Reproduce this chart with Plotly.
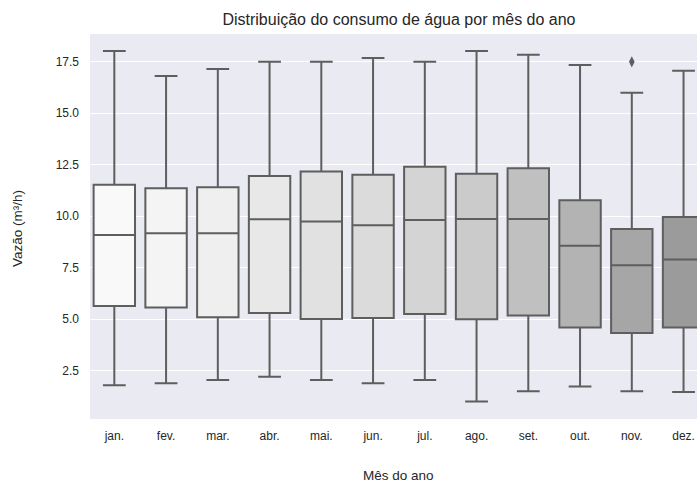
import plotly.graph_objects as go

# Monthly water flow distribution (m³/h): precomputed box statistics
months = ["jan.", "fev.", "mar.", "abr.", "mai.", "jun.",
          "jul.", "ago.", "set.", "out.", "nov.", "dez."]
lower_whisker = [1.79, 1.89, 2.04, 2.20, 2.04, 1.89, 2.04, 1.00, 1.50, 1.73, 1.50, 1.46]
q1 = [5.64, 5.57, 5.09, 5.30, 5.01, 5.05, 5.25, 4.99, 5.18, 4.60, 4.33, 4.60]
median = [9.09, 9.17, 9.17, 9.85, 9.74, 9.56, 9.82, 9.86, 9.86, 8.56, 7.62, 7.90]
q3 = [11.53, 11.36, 11.41, 11.95, 12.17, 12.01, 12.40, 12.06, 12.33, 10.78, 9.38, 9.96]
upper_whisker = [18.02, 16.81, 17.15, 17.50, 17.50, 17.69, 17.50, 18.03, 17.84, 17.35, 16.00, 17.06]
outlier_months = ["nov."]
outlier_values = [17.5]

fill_colors = ["#f9f9f9", "#f4f4f4", "#efefef", "#e8e8e8", "#e1e1e1", "#dbdbdb",
               "#d4d4d4", "#cbcbcb", "#c0c0c0", "#b3b3b3", "#a6a6a6", "#9b9b9b"]
line_gray = "#5e5e5e"
text_color = "#262626"
font_family = "Liberation Sans, Arial, sans-serif"

fig = go.Figure()
for i, m in enumerate(months):
    fig.add_trace(go.Box(
        x=[m],
        q1=[q1[i]], median=[median[i]], q3=[q3[i]],
        lowerfence=[lower_whisker[i]], upperfence=[upper_whisker[i]],
        fillcolor=fill_colors[i],
        line=dict(color=line_gray, width=2),
        width=0.8,
        whiskerwidth=0.55,
        boxpoints=False,
        showlegend=False,
        hoverinfo="skip",
    ))

fig.add_trace(go.Scatter(
    x=outlier_months, y=outlier_values, mode="markers",
    marker=dict(symbol="diamond-tall", size=8, color=line_gray,
                line=dict(width=0)),
    showlegend=False, hoverinfo="skip",
))

fig.update_layout(
    width=697, height=484,
    margin=dict(l=90, r=0, t=34, b=65),
    paper_bgcolor="white",
    plot_bgcolor="#eaeaf2",
    boxmode="overlay",
    font=dict(family=font_family, color=text_color, size=12),
    title=dict(
        text="Distribuição do consumo de água por mês do ano",
        x=0.509, xref="paper", xanchor="center",
        y=1 - 19 / 484, yref="container", yanchor="middle",
        font=dict(size=16, color=text_color),
    ),
    xaxis=dict(
        type="category",
        categoryorder="array", categoryarray=months,
        range=[-0.47, 11.26],
        showgrid=False, zeroline=False, showline=False,
        ticks="", ticklabelstandoff=8,
        tickfont=dict(size=12, color=text_color),
    ),
    yaxis=dict(
        range=[0.15, 18.85],
        tickvals=[2.5, 5.0, 7.5, 10.0, 12.5, 15.0, 17.5],
        ticktext=["2.5", "5.0", "7.5", "10.0", "12.5", "15.0", "17.5"],
        showgrid=True, gridcolor="white", gridwidth=1,
        zeroline=False, showline=False,
        ticks="", ticklabelstandoff=10,
        tickfont=dict(size=12, color=text_color),
    ),
    annotations=[
        dict(text="Mês do ano", xref="paper", yref="paper",
             x=0.509, y=-56 / 385, xanchor="center", yanchor="middle",
             showarrow=False, font=dict(size=13.5, color=text_color)),
        dict(text="Vazão (m³/h)", xref="paper", yref="paper",
             x=(17 - 90) / 607, y=(419 - 229) / 385, textangle=-90,
             xanchor="center", yanchor="middle",
             showarrow=False, font=dict(size=13.5, color=text_color)),
    ],
)

fig.write_html("out.html")
